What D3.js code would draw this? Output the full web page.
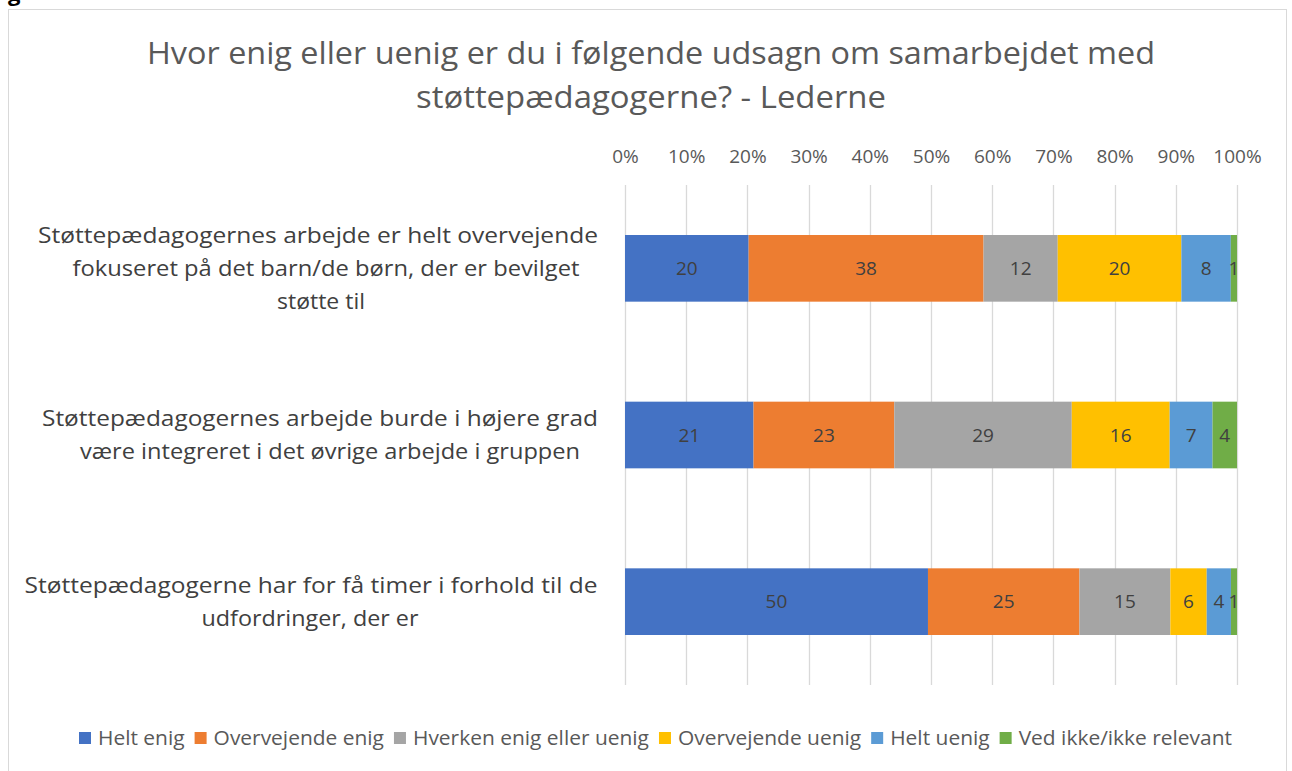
<!DOCTYPE html>
<html><head><meta charset="utf-8">
<script src="https://cdn.jsdelivr.net/npm/d3@7"></script>
<style>body{margin:0;background:#fff}svg{display:block}text{font-family:"Open Sans",sans-serif}</style>
</head><body><svg id="c" width="1292" height="771"></svg>
<script>
const titleLines = ["Hvor enig eller uenig er du i følgende udsagn om samarbejdet med","støttepædagogerne? - Lederne"];
const categories = [
  "Støttepædagogernes arbejde er helt overvejende fokuseret på det barn/de børn, der er bevilget støtte til",
  "Støttepædagogernes arbejde burde i højere grad være integreret i det øvrige arbejde i gruppen",
  "Støttepædagogerne har for få timer i forhold til de udfordringer, der er"
];
const categoryLines = [
  ["Støttepædagogernes arbejde er helt overvejende","fokuseret på det barn/de børn, der er bevilget","støtte til"],
  ["Støttepædagogernes arbejde burde i højere grad","være integreret i det øvrige arbejde i gruppen"],
  ["Støttepædagogerne har for få timer i forhold til de","udfordringer, der er"]
];
const seriesNames = ["Helt enig","Overvejende enig","Hverken enig eller uenig","Overvejende uenig","Helt uenig","Ved ikke/ikke relevant"];
const seriesColors = ["#4472C4","#ED7D31","#A5A5A5","#FFC000","#5B9BD5","#70AD47"];
const heltEnig = [20,21,50];
const overvejendeEnig = [38,23,25];
const hverken = [12,29,15];
const overvejendeUenig = [20,16,6];
const heltUenig = [8,7,4];
const vedIkke = [1,4,1];
const tickValues = [0,0.1,0.2,0.3,0.4,0.5,0.6,0.7,0.8,0.9,1];

const seriesValues = [heltEnig,overvejendeEnig,hverken,overvejendeUenig,heltUenig,vedIkke];
const rows = categories.map((c,i)=>{const r={cat:c};seriesNames.forEach((s,j)=>r[s]=seriesValues[j][i]);return r;});
const stack = d3.stack().keys(seriesNames).offset(d3.stackOffsetExpand)(rows);

const svg = d3.select("#c");
// clipped heading fragment above the chart (as in the reference)
svg.append("text").attr("x",8).attr("y",1).attr("font-size",22).attr("font-weight","bold").attr("fill","#000").text("g");
// chart border
svg.append("rect").attr("x",8.5).attr("y",9.5).attr("width",1278).attr("height",800).attr("fill","#fff").attr("stroke","#d9d9d9");

const x = d3.scaleLinear().domain([0,1]).range([625,1237]);
const y = d3.scaleBand().domain(categories).range([185,685]).paddingInner(0.6).paddingOuter(0.3);

// title
const tW=[1008,470];
titleLines.forEach((t,i)=>{
  svg.append("text").attr("x",651).attr("y",64+i*44).attr("text-anchor","middle")
    .attr("font-size",31).attr("fill","#595959").attr("textLength",tW[i]).attr("lengthAdjust","spacingAndGlyphs").text(t);
});

// gridlines
svg.append("g").selectAll("line").data(tickValues).join("line")
  .attr("x1",d=>Math.round(x(d))+0.5).attr("x2",d=>Math.round(x(d))+0.5).attr("y1",185).attr("y2",685)
  .attr("stroke","#d9d9d9").attr("stroke-width",1.3);

// top axis
const ax = svg.append("g").attr("transform","translate(0,185)")
  .call(d3.axisTop(x).tickValues(tickValues).tickFormat(d3.format(".0%")).tickSize(0).tickPadding(22));
ax.select(".domain").remove();
ax.selectAll("text").attr("font-size",19).attr("fill","#595959").attr("font-family","'Open Sans',sans-serif");

// bars
const g = svg.append("g");
stack.forEach((s,j)=>{
  const sg = g.append("g");
  sg.selectAll("rect").data(s).join("rect")
    .attr("x",d=>x(d[0])).attr("width",d=>x(d[1])-x(d[0]))
    .attr("y",d=>y(d.data.cat)).attr("height",y.bandwidth())
    .attr("fill",seriesColors[j]);
  sg.selectAll("text").data(s).join("text")
    .attr("x",d=>(x(d[0])+x(d[1]))/2).attr("y",d=>y(d.data.cat)+y.bandwidth()/2).attr("dy","0.35em")
    .attr("text-anchor","middle").attr("font-size",19).attr("fill","#404040")
    .text(d=>d.data[s.key]);
});

// category labels
const lineW = [[560,507,88],[556,500],[573,217]];
const lineC = [[318,326,321],[320,330],[311,310]];
categoryLines.forEach((lines,i)=>{
  const cy = y(categories[i])+y.bandwidth()/2;
  const n = lines.length, lh = 33;
  lines.forEach((t,k)=>{
    svg.append("text").attr("x",lineC[i][k]).attr("y",cy+(k-(n-1)/2)*lh).attr("dy","0.35em")
      .attr("text-anchor","middle").attr("font-size",22).attr("fill","#404040")
      .attr("textLength",lineW[i][k]).attr("lengthAdjust","spacingAndGlyphs").text(t);
  });
});

// legend
const leg = svg.append("g");
const its = seriesNames.map((s,j)=>{
  const it = leg.append("g");
  it.append("rect").attr("x",0).attr("y",-6).attr("width",12).attr("height",12).attr("fill",seriesColors[j]);
  const t = it.append("text").attr("x",19).attr("dy","0.35em").attr("font-size",19.5).attr("fill","#595959").text(s);
  return {it,t,w:t.node().getComputedTextLength()};
});
const targetText = 989, sum = d3.sum(its,d=>d.w), k = targetText/sum;
let lx = 79;
its.forEach(d=>{
  const w = d.w*k;
  d.t.attr("textLength",w).attr("lengthAdjust","spacingAndGlyphs");
  d.it.attr("transform",`translate(${lx},738)`);
  lx += 19 + w + 10;
});
</script></body></html>
